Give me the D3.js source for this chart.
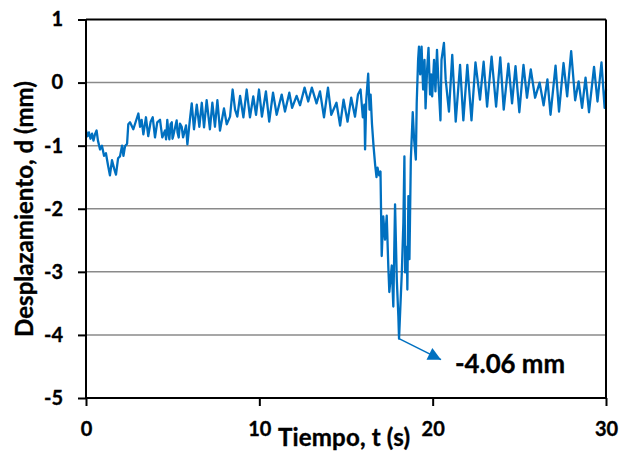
<!DOCTYPE html>
<html>
<head>
<meta charset="utf-8">
<script src="https://cdn.jsdelivr.net/npm/d3@7"></script>
<style>
  body { margin: 0; background: #fff; }
  svg { display: block; }
  text { font-family: Lato, "Open Sans", "Liberation Sans", sans-serif; font-weight: 700; fill: #000; stroke: #000; stroke-width: 0.35px; }
</style>
</head>
<body>
<svg id="chart" width="621" height="457"></svg>
<script>
// Displacement record: time (s) and displacement (mm)
const timeS = [
  0, 0.09, 0.17, 0.26, 0.35, 0.43, 0.52, 0.61, 0.69, 0.81,
  0.92, 1.04, 1.15, 1.27, 1.38, 1.50, 1.62, 1.73, 1.85, 1.96,
  2.08, 2.16, 2.25, 2.37, 2.44, 2.54, 2.73, 3.02, 3.12, 3.21,
  3.31, 3.46, 3.59, 3.73, 3.85, 3.98, 4.11, 4.27, 4.40, 4.56,
  4.62, 4.69, 4.76, 4.81, 4.88, 4.95, 4.99, 5.04, 5.14, 5.23,
  5.28, 5.35, 5.42, 5.52, 5.60, 5.65, 5.77, 5.85, 6.00, 6.10,
  6.23, 6.39, 6.54, 6.68, 6.81, 6.96, 7.15, 7.29, 7.44, 7.58,
  7.73, 7.96, 8.12, 8.31, 8.46, 8.60, 8.73, 8.89, 9.08, 9.27,
  9.46, 9.65, 9.81, 9.98, 10.15, 10.38, 10.57, 10.79, 11.00, 11.29,
  11.48, 11.73, 11.89, 12.15, 12.35, 12.61, 12.82, 13.03, 13.30, 13.50,
  13.73, 13.96, 14.15, 14.45, 14.66, 14.86, 15.09, 15.30, 15.52, 15.69,
  15.84, 15.97, 16.06, 16.10, 16.17, 16.28, 16.36, 16.42, 16.50, 16.59,
  16.68, 16.76, 16.82, 16.91, 16.99, 17.06, 17.15, 17.25, 17.35, 17.44,
  17.50, 17.64, 17.73, 17.83, 17.93, 18.02, 18.06, 18.22, 18.31, 18.37,
  18.41, 18.51, 18.54, 18.60, 18.66, 18.74, 18.85, 18.93, 19.03, 19.08,
  19.16, 19.21, 19.28, 19.36, 19.45, 19.53, 19.59, 19.68, 19.76, 19.85,
  19.91, 19.97, 20.08, 20.16, 20.25, 20.34, 20.45, 20.51, 20.65, 20.75,
  20.94, 21.13, 21.33, 21.58, 21.77, 22.00, 22.24, 22.47, 22.73, 22.94,
  23.14, 23.40, 23.66, 23.90, 24.10, 24.37, 24.58, 24.78, 25.00, 25.24,
  25.44, 25.66, 25.91, 26.17, 26.40, 26.62, 26.80, 27.09, 27.29, 27.55,
  27.76, 27.99, 28.22, 28.42, 28.62, 28.82, 29.02, 29.31, 29.51, 29.74,
  29.92, 30.00
];
const dispMm = [
  -0.76, -0.85, -0.79, -0.89, -0.81, -0.92, -0.82, -0.76, -0.92, -1.06,
  -1.00, -1.16, -1.12, -1.31, -1.47, -1.23, -1.36, -1.46, -1.20, -1.17,
  -1.00, -1.16, -1.01, -0.97, -0.66, -0.63, -0.74, -0.49, -0.70, -0.59,
  -0.82, -0.55, -0.85, -0.62, -0.55, -0.87, -0.63, -0.59, -0.87, -0.76,
  -0.90, -0.59, -0.82, -0.90, -0.66, -0.63, -0.89, -0.84, -0.71, -0.60,
  -0.79, -0.87, -0.65, -0.70, -0.87, -0.82, -0.68, -0.98, -0.57, -0.33,
  -0.74, -0.35, -0.70, -0.32, -0.71, -0.28, -0.74, -0.32, -0.70, -0.28,
  -0.76, -0.41, -0.66, -0.54, -0.11, -0.43, -0.54, -0.21, -0.55, -0.11,
  -0.55, -0.22, -0.51, -0.11, -0.54, -0.14, -0.62, -0.16, -0.51, -0.19,
  -0.46, -0.16, -0.40, -0.21, -0.36, -0.08, -0.30, -0.08, -0.33, -0.14,
  -0.55, -0.08, -0.51, -0.32, -0.68, -0.27, -0.62, -0.24, -0.54, -0.19,
  -0.11, -0.55, -0.35, -1.06, -0.27, 0.14, -0.43, -0.19, -0.66, -1.01,
  -1.30, -1.50, -1.35, -1.47, -1.41, -2.75, -2.12, -2.49, -2.11, -2.91,
  -3.32, -2.90, -3.55, -1.93, -3.12, -3.70, -4.06, -3.01, -2.22, -1.17,
  -3.01, -2.60, -3.28, -1.80, -2.80, -1.22, -0.47, -0.90, -1.22, -0.32,
  0.36, 0.57, 0.13, 0.57, -0.11, 0.36, -0.41, 0.21, 0.55, -0.19,
  0.13, -0.22, 0.36, -0.14, 0.52, -0.03, -0.60, 0.36, 0.63, 0.05,
  -0.46, 0.44, -0.62, 0.28, -0.60, 0.28, -0.60, 0.32, -0.27, 0.33,
  -0.38, 0.41, -0.38, 0.40, -0.43, 0.30, -0.33, 0.26, -0.47, 0.28,
  -0.24, 0.21, -0.24, 0.00, -0.36, 0.05, -0.51, 0.27, -0.46, 0.31,
  -0.22, 0.50, -0.28, 0.02, -0.40, 0.08, -0.47, 0.25, -0.30, 0.32,
  -0.40, -0.11
];
const xTicks = [0, 10, 20, 30];
const yTicks = [1, 0, -1, -2, -3, -4, -5];
const gridValues = [0, -1, -2, -3, -4];
const xTitle = "Tiempo, t (s)";
const yTitle = "Desplazamiento, d (mm)";
const peakTime = 18.06;
const peakDisp = -4.06;
const peakLabel = "-4.06 mm";

const svg = d3.select("#chart");
const plotL = 86, plotR = 606, plotT = 19.5, plotB = 398;

const x = d3.scaleLinear().domain([0, 30]).range([plotL, plotR]);
const y = d3.scaleLinear().domain([-5, 1]).range([plotB, plotT]);

// scale a text element's font so its run length matches a target width
function fitText(sel, target) {
  const len = sel.node().getComputedTextLength();
  const fs = parseFloat(sel.attr("font-size"));
  const size = fs * target / len;
  sel.attr("font-size", size.toFixed(2));
  return size;
}

// horizontal grid
svg.append("g").selectAll("line").data(gridValues).join("line")
  .attr("x1", plotL).attr("x2", plotR)
  .attr("y1", d => y(d)).attr("y2", d => y(d))
  .attr("stroke", "#8a8a8a").attr("stroke-width", 1.5);

// displacement trace
const series = timeS.map((t, i) => ({ t, d: dispMm[i] }));
svg.append("path")
  .datum(series)
  .attr("fill", "none")
  .attr("stroke", "#0070C0")
  .attr("stroke-width", 2.3)
  .attr("stroke-linejoin", "round")
  .attr("d", d3.line().x(p => x(p.t)).y(p => y(p.d)));

// frame: top and right edges
svg.append("line").attr("x1", plotL).attr("x2", plotR).attr("y1", plotT).attr("y2", plotT)
  .attr("stroke", "#000").attr("stroke-width", 2);
svg.append("line").attr("x1", plotR).attr("x2", plotR).attr("y1", plotT).attr("y2", plotB)
  .attr("stroke", "#000").attr("stroke-width", 2);

// axes (plain hyphen for negatives)
const fmt = d => String(d);
const yAxis = svg.append("g").attr("transform", `translate(${plotL},0)`)
  .call(d3.axisLeft(y).tickValues(yTicks).tickFormat(fmt).tickSize(8).tickPadding(15));
const xAxis = svg.append("g").attr("transform", `translate(0,${plotB})`)
  .call(d3.axisBottom(x).tickValues(xTicks).tickFormat(fmt).tickSize(8).tickPadding(16));
[yAxis, xAxis].forEach(g => {
  g.select(".domain").attr("stroke", "#000").attr("stroke-width", 2);
  g.selectAll(".tick line").attr("stroke", "#000").attr("stroke-width", 2);
  g.selectAll(".tick text").attr("font-size", 20).attr("font-family", null).attr("fill", "#000");
});
xAxis.select(".domain").attr("d", `M${plotL},0H${plotR}`);
yAxis.select(".domain").attr("d", `M0,${plotT}V${plotB}`);

// axis titles (same size for both)
const yt = svg.append("text")
  .attr("transform", "translate(33,209) rotate(-90)")
  .attr("text-anchor", "middle").attr("font-size", 20)
  .text(yTitle);
const titleSize = fitText(yt, 256);
svg.append("text")
  .attr("x", 344).attr("y", 446)
  .attr("text-anchor", "middle").attr("font-size", titleSize.toFixed(2))
  .attr("textLength", 132).attr("lengthAdjust", "spacing")
  .text(xTitle);

// minimum annotation with arrow
const defs = svg.append("defs");
defs.append("marker")
  .attr("id", "arrowHead").attr("viewBox", "0 0 10 10")
  .attr("refX", 10).attr("refY", 5)
  .attr("markerWidth", 15).attr("markerHeight", 13)
  .attr("markerUnits", "userSpaceOnUse")
  .attr("orient", "auto")
  .append("path").attr("d", "M0,0L10,5L0,10Z").attr("fill", "#0070C0");
const px = x(peakTime), py = y(peakDisp);
svg.append("line")
  .attr("x1", px).attr("y1", py)
  .attr("x2", px + 42).attr("y2", py + 21)
  .attr("stroke", "#0070C0").attr("stroke-width", 1.5)
  .attr("marker-end", "url(#arrowHead)");
const pk = svg.append("text")
  .attr("x", 455).attr("y", 373)
  .attr("font-size", 24)
  .text(peakLabel);
fitText(pk, 110);
</script>
</body>
</html>
